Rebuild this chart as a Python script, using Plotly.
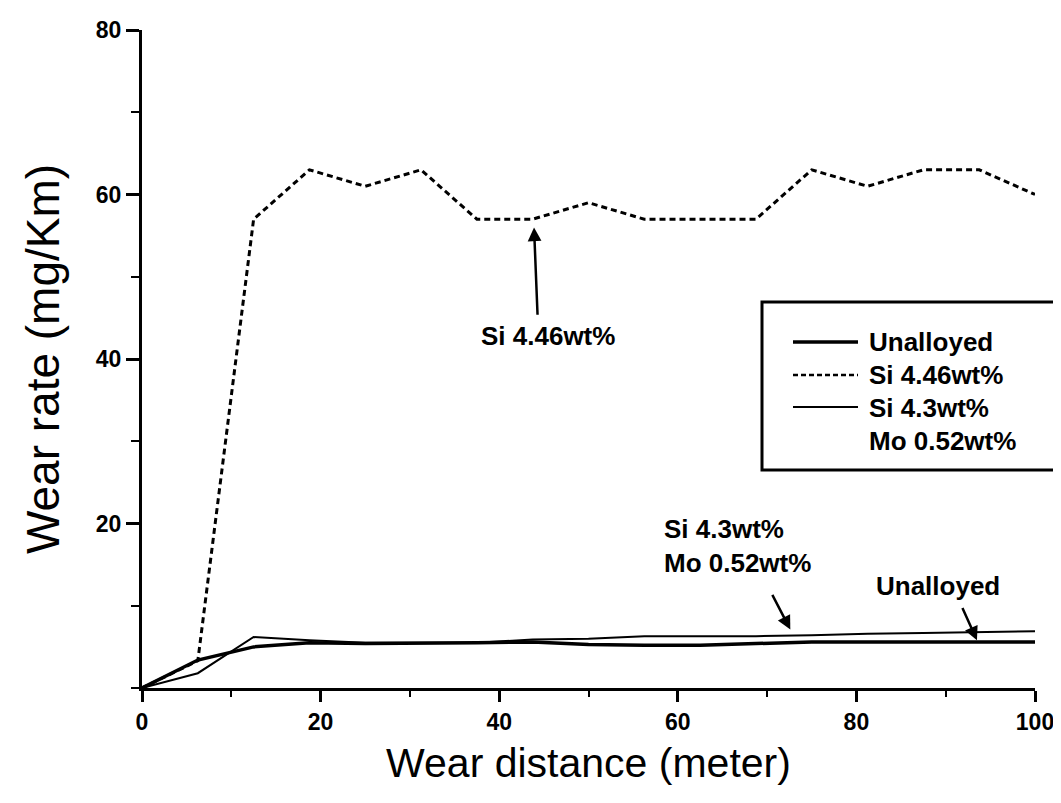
import plotly.graph_objects as go

# ---- data ----
distance = [0, 6.25, 12.5, 18.75, 25, 31.25, 37.5, 43.75, 50, 56.25, 62.5, 68.75, 75, 81.25, 87.5, 93.75, 100]
unalloyed = [0, 3.4, 5.0, 5.5, 5.4, 5.4, 5.5, 5.6, 5.3, 5.2, 5.2, 5.4, 5.6, 5.6, 5.6, 5.6, 5.6]
si446 = [0, 3.3, 57, 63, 61, 63, 57, 57, 59, 57, 57, 57, 63, 61, 63, 63, 60]
si43_mo052 = [0, 1.8, 6.2, 5.8, 5.5, 5.5, 5.5, 5.9, 6.0, 6.3, 6.3, 6.3, 6.4, 6.6, 6.7, 6.8, 6.9]

legend_names = ["Unalloyed", "Si 4.46wt%", "Si 4.3wt%<br>Mo 0.52wt%"]

# page has an 8px body margin; plot area in page coords: x 142..1035, y 30..688
OFF = 8
W, H = 1061 - OFF, 803 - OFF
PX0, PX1, PY0, PY1 = 142, 1035, 30, 688
ML, MT = PX0 - OFF, PY0 - OFF
MR = 1061 - PX1
MB = 803 - PY1
PW, PH = PX1 - PX0, PY1 - PY0


def px(x):
    return (x - PX0) / PW


def py(y):
    return (PY1 - y) / PH


FONT = "Liberation Sans, Arial, Helvetica, sans-serif"

fig = go.Figure()
fig.add_trace(go.Scatter(x=distance, y=unalloyed, mode="lines", name=legend_names[0],
                         line=dict(color="black", width=3.5)))
fig.add_trace(go.Scatter(x=distance, y=si446, mode="lines", name=legend_names[1],
                         line=dict(color="black", width=3, dash="6px,4px")))
fig.add_trace(go.Scatter(x=distance, y=si43_mo052, mode="lines", name=legend_names[2],
                         line=dict(color="black", width=2)))

# manual legend box
shapes = [dict(type="rect", xref="paper", yref="paper", x0=px(762), x1=px(1057), y0=py(470), y1=py(302),
               line=dict(color="black", width=3), fillcolor="white", layer="above")]
leg_y = [342, 375, 407]
styles = [dict(width=3.5), dict(width=2.5, dash="5px,3px"), dict(width=2)]
for yy, st in zip(leg_y, styles):
    shapes.append(dict(type="line", xref="paper", yref="paper", x0=px(793), x1=px(858), y0=py(yy), y1=py(yy),
                       line=dict(color="black", **st), layer="above"))

annotations = []
leg_lines = ["Unalloyed", "Si 4.46wt%", "Si 4.3wt%", "Mo 0.52wt%"]
for i, t in enumerate(leg_lines):
    annotations.append(dict(text="<b>%s</b>" % t, xref="paper", yref="paper", x=px(867), y=py(342 + 33 * i),
                            xanchor="left", yanchor="middle", showarrow=False,
                            font=dict(family=FONT, size=26, color="black")))

# in-plot labels
annotations.append(dict(text="<b>Si 4.46wt%</b>", x=45.5, y=42.8, xref="x", yref="y", showarrow=False,
                        xanchor="center", yanchor="middle", font=dict(family=FONT, size=26, color="black")))
annotations.append(dict(text="<b>Si 4.3wt%<br>Mo 0.52wt%</b>", x=58.2, y=17.3, xref="x", yref="y",
                        showarrow=False, xanchor="left", yanchor="middle", align="left",
                        font=dict(family=FONT, size=26, color="black")))
annotations.append(dict(text="<b>Unalloyed</b>", x=82.0, y=12.4, xref="x", yref="y", showarrow=False,
                        xanchor="left", yanchor="middle", font=dict(family=FONT, size=26, color="black")))
# arrows
for (tx, ty, hx, hy) in [(44.3, 45.2, 43.9, 56.0), (70.5, 11.5, 72.6, 7.1), (91.8, 9.9, 93.5, 5.8)]:
    annotations.append(dict(text="", x=hx, y=hy, ax=tx, ay=ty, xref="x", yref="y", axref="x", ayref="y",
                            showarrow=True, arrowhead=2, arrowsize=1.1, arrowwidth=2.5, arrowcolor="black"))

fig.update_layout(
    width=W, height=H,
    margin=dict(l=ML, r=MR, t=MT, b=MB),
    paper_bgcolor="white", plot_bgcolor="white",
    showlegend=False,
    shapes=shapes, annotations=annotations,
    font=dict(family=FONT, color="black"),
)
fig.update_xaxes(range=[0, 100], dtick=20, tick0=0, showgrid=False, zeroline=False,
                 showline=True, linecolor="black", linewidth=3,
                 ticks="outside", ticklen=11, tickwidth=2.5, tickcolor="black",
                 minor=dict(dtick=10, ticks="outside", ticklen=6, tickwidth=2, tickcolor="black", showgrid=False),
                 tickfont=dict(family=FONT, size=23, color="black", weight="bold"),
                 title=dict(text="Wear distance (meter)", font=dict(family=FONT, size=41, color="black"), standoff=15),
                 automargin=False)
fig.update_yaxes(range=[0, 80], dtick=20, tick0=0, showgrid=False, zeroline=False,
                 showline=True, linecolor="black", linewidth=3,
                 ticks="outside", ticklen=13, tickwidth=2.5, tickcolor="black",
                 minor=dict(dtick=10, ticks="outside", ticklen=8, tickwidth=2, tickcolor="black", showgrid=False),
                 tickfont=dict(family=FONT, size=23, color="black", weight="bold"),
                 tickvals=[20, 40, 60, 80],
                 title=dict(text="Wear rate (mg/Km)", font=dict(family=FONT, size=46, color="black"), standoff=22),
                 automargin=False)
fig.write_html("out.html")
